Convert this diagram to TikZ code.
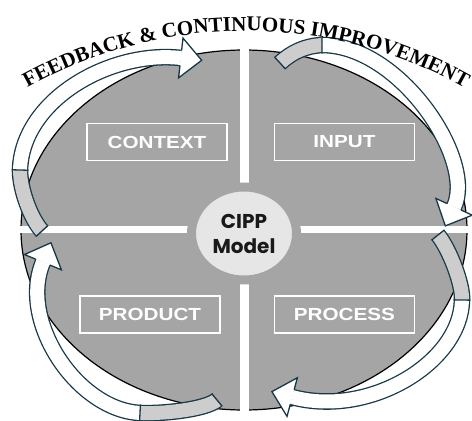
\documentclass[tikz,border=0pt]{standalone}
\usepackage{fontspec}
\usetikzlibrary{positioning, shapes.geometric, decorations.markings, decorations.text}
\newfontfamily\titlefont{Liberation Serif}
\newfontfamily\boxfont{Liberation Sans}[FakeStretch=1.18]
\newfontfamily\hubfont{Poppins}
\definecolor{quadgray}{HTML}{A5A5A5}
\definecolor{backgray}{HTML}{CDCDCD}
\definecolor{hubgray}{HTML}{E6E6E6}
\definecolor{edge}{HTML}{183847}

\begin{document}
\begin{tikzpicture}[x=1pt, y=1pt,
    stage/.style={draw=white, line width=1.4pt, minimum width=140pt, minimum height=37pt,
      text=white, font=\boxfont\bfseries\fontsize{17.5}{17.5}\selectfont},
    band/.style={preaction={draw=edge, line width=16.6pt}, draw=#1, line width=14pt},
    cut/.style={postaction={decorate, decoration={markings, mark=at position 0 with
        {\draw[draw=edge, line width=1.3pt] (0pt,-8.3pt) -- (0pt,8.3pt);}}}},
    tip/.style={postaction={decorate, decoration={markings,
      mark=at position 0 with {\draw[draw=edge, line width=1.3pt] (0pt,-8.3pt) -- (0pt,8.3pt);},
      mark=at position 0.999 with {
        \fill[white] (0pt,-20pt) -- (21pt,0pt) -- (0pt,20pt) -- cycle;
        \draw[draw=edge, line width=1.3pt, line join=miter]
          (0pt,7.6pt) -- (0pt,20pt) -- (21pt,0pt) -- (0pt,-20pt) -- (0pt,-7.6pt);}}}}]
    \useasboundingbox (0,0) rectangle (472,-421);

    % quadrants
    \fill[quadgray] (244,-230) ellipse [x radius=223pt, y radius=180pt];
    \draw[black, line width=1.2pt] (244,-230) ellipse [x radius=223pt, y radius=180pt];
    \begin{scope}
        \clip (244,-230) ellipse [x radius=224pt, y radius=181pt];
        \fill[white] (239.5,-40) rectangle (248.5,-420);
        \fill[white] (10,-226) rectangle (480,-233);
    \end{scope}

    \node (hub) [ellipse, fill=hubgray, draw=quadgray, line width=9pt, minimum width=105pt,
        minimum height=93pt, inner sep=0pt, align=center, text=black!90,
        font=\hubfont\bfseries\fontsize{20}{25}\selectfont] at (244,-233.5) {CIPP\\Model};

    \node (context) [stage] at (157,-142) {CONTEXT};
    \node (input) [stage, right=46pt of context] {INPUT};
    \node (process) [stage, below=134pt of input] {PROCESS};
    \node (product) [stage, left=53pt of process] {PRODUCT};

    % feedback arrows
    \coordinate (a1tail) at (42,-231);
    \coordinate (a1twist) at (20,-170);
    \coordinate (a1head) at (181,-58);
    \draw[band=backgray, cut] (a1tail) .. controls (31,-219) and (20,-190) .. (a1twist);
    \draw[band=white, tip] (a1twist) .. controls (22,-100) and (110,-50) .. (a1head);

    \coordinate (a2tail) at (280,-63);
    \coordinate (a2twist) at (322,-45);
    \coordinate (a2head) at (454,-207);
    \draw[band=backgray, cut] (a2tail) .. controls (292,-52) and (305,-46) .. (a2twist);
    \draw[band=white, tip] (a2twist) .. controls (400,-45) and (476,-160) .. (a2head);

    \coordinate (a3tail) at (438,-235);
    \coordinate (a3twist) at (462,-300);
    \coordinate (a3head) at (292,-397);
    \draw[band=backgray, cut] (a3tail) .. controls (450,-250) and (463,-285) .. (a3twist);
    \draw[band=white, tip] (a3twist) .. controls (461,-362) and (370,-418) .. (a3head);

    \coordinate (a4tail) at (217,-400);
    \coordinate (a4twist) at (140,-413);
    \coordinate (a4head) at (43,-262);
    \draw[band=backgray, cut] (a4tail) .. controls (205,-410) and (160,-414) .. (a4twist);
    \draw[band=white, tip] (a4twist) .. controls (78,-410) and (18,-322) .. (a4head);

    % title on the arc
    \path[decorate, decoration={text along path, text align=center,
        text={|\titlefont\bfseries\fontsize{21}{21}\selectfont|FEEDBACK {\&} CONTINUOUS IMPROVEMENT}}]
        (22,-91) arc[start angle=120, end angle=60, radius=448pt];
\end{tikzpicture}
\end{document}
